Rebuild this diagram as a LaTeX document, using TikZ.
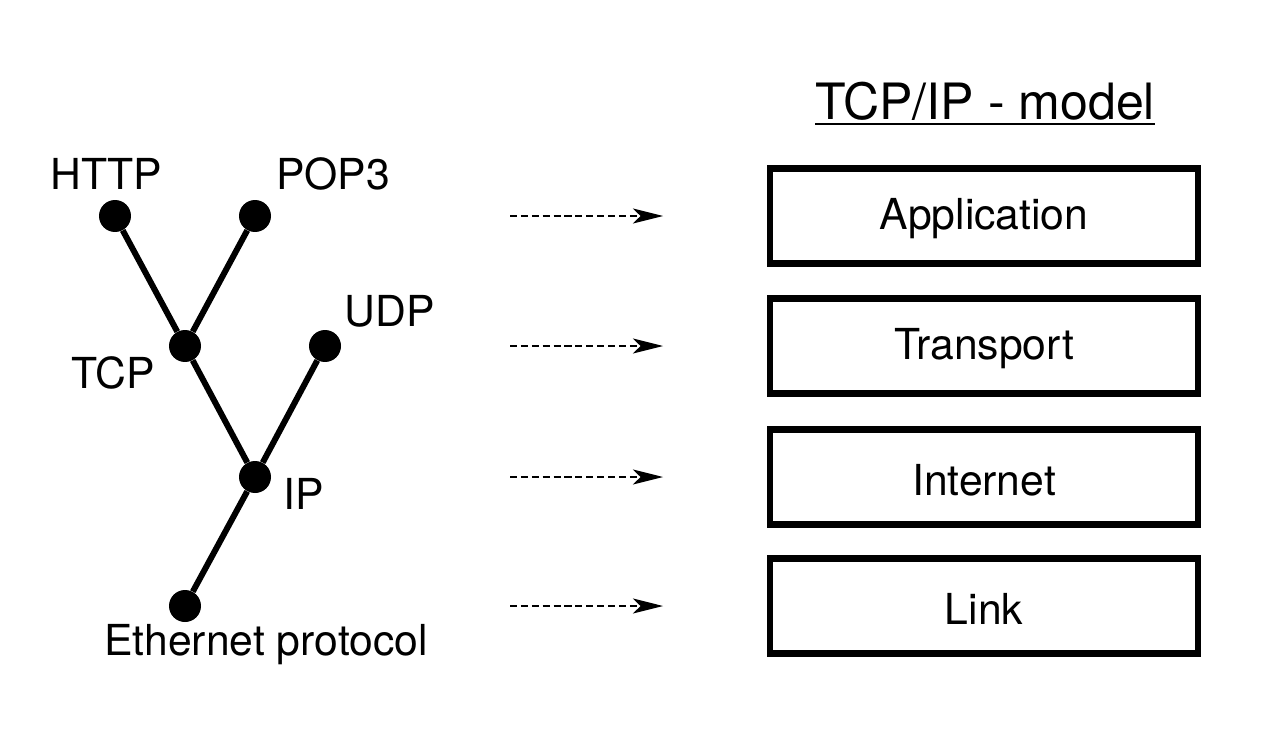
\documentclass[tikz,border=0pt]{standalone}
\usepackage{fontspec}
\setmainfont{TeX Gyre Heros}
\usepackage{tikz}
\usetikzlibrary{positioning,arrows.meta,calc}

\begin{document}
\begin{tikzpicture}[x=0.02cm, y=-0.02cm]
        \tikzset{
          dot/.style={circle, fill=black, minimum size=0.64cm, inner sep=0pt},
          proto/.style={inner sep=0pt, font=\fontsize{24.3}{28}\selectfont},
          branch/.style={line width=3.4pt},
          layer/.style={draw, line width=3.5pt, minimum width=8.56cm, minimum height=1.9cm,
                        font=\fontsize{24.3}{28}\selectfont},
          mapping/.style={dashed, line width=0.8pt, dash pattern=on 4pt off 2.2pt,
                          -{Stealth[length=0.6cm, width=0.3cm, inset=0.15cm]}}
        }
        \useasboundingbox (0,0) rectangle (1280,753);
        % Protocol tree
        \node[dot] (http) at (115,216) {};
        \node[dot] (pop) at (255,216) {};
        \node[dot] (tcp) at (185,346) {};
        \node[dot] (udp) at (325,346) {};
        \node[dot] (ip) at (255,477) {};
        \node[dot] (eth) at (185,606) {};
        \draw[branch] (http) -- (tcp);
        \draw[branch] (pop) -- (tcp);
        \draw[branch] (tcp) -- (ip);
        \draw[branch] (udp) -- (ip);
        \draw[branch] (ip) -- (eth);
        % Protocol names
        \node[proto] (httpname) at (106,174) {HTTP};
        \node[proto] (popname) at (333,174) {POP3};
        \node[proto] (udpname) at (390,311) {UDP};
        \node[proto] (tcpname) at (113,373) {TCP};
        \node[proto] (ipname) at (304,494) {IP};
        \node[proto] (ethname) at (266,645) {Ethernet protocol};
        % TCP/IP model
        \node[proto, font=\fontsize{28.5}{32}\selectfont] (title) at (985,101) {TCP/IP - model};
        \draw[line width=1pt] (815,124) -- (1155,124);
        \foreach \name/\txt/\y in {app/Application/219, trans/Transport/349,
                                    inet/Internet/480, link/Link/609} {
          \node[layer, minimum height=1.9cm] (\name) at (984,\y-3) {};
          \node[proto] (\name text) at (984,\y) {\txt};
        }
        % Mapping arrows
        \foreach \name/\y in {app/216, trans/346, inet/477, link/606} {
          \coordinate (\name from) at (510,\y);
          \coordinate (\name to) at (663,\y);
          \draw[mapping] (\name from) -- (\name to);
        }
\end{tikzpicture}
\end{document}
